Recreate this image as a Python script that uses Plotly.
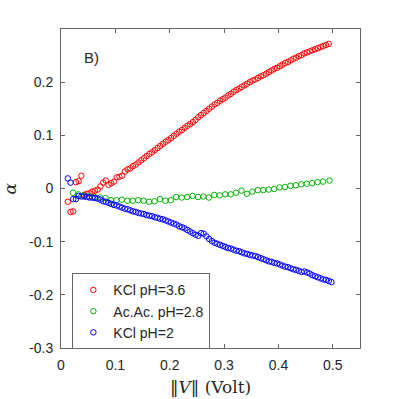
import plotly.graph_objects as go

# Voltage samples (Volt)
V = [0.0125, 0.0175, 0.0225, 0.0275, 0.0325, 0.0375, 0.0425, 0.0475, 0.0525, 0.0575,
     0.0625, 0.0675, 0.0725, 0.0775, 0.0825, 0.0875, 0.0925, 0.0975, 0.1025, 0.1075,
     0.1125, 0.1175, 0.1225, 0.1275, 0.1325, 0.1375, 0.1425, 0.1475, 0.1525, 0.1575,
     0.1625, 0.1675, 0.1725, 0.1775, 0.1825, 0.1875, 0.1925, 0.1975, 0.2025, 0.2075,
     0.2125, 0.2175, 0.2225, 0.2275, 0.2325, 0.2375, 0.2425, 0.2475, 0.2525, 0.2575,
     0.2625, 0.2675, 0.2725, 0.2775, 0.2825, 0.2875, 0.2925, 0.2975, 0.3025, 0.3075,
     0.3125, 0.3175, 0.3225, 0.3275, 0.3325, 0.3375, 0.3425, 0.3475, 0.3525, 0.3575,
     0.3625, 0.3675, 0.3725, 0.3775, 0.3825, 0.3875, 0.3925, 0.3975, 0.4025, 0.4075,
     0.4125, 0.4175, 0.4225, 0.4275, 0.4325, 0.4375, 0.4425, 0.4475, 0.4525, 0.4575,
     0.4625, 0.4675, 0.4725, 0.4775, 0.4825, 0.4875, 0.4925, 0.4975]

# KCl pH=3.6 (red)
alpha_kcl36 = [-0.025, -0.044, -0.043, 0.012, 0.014, 0.024, -0.012, -0.010, -0.009, -0.006,
               -0.004, -0.002, 0.004, 0.011, 0.015, 0.007, 0.010, 0.013, 0.021, 0.022,
               0.024, 0.032, 0.036, 0.038, 0.042, 0.045, 0.049, 0.053, 0.057, 0.061,
               0.065, 0.068, 0.072, 0.076, 0.080, 0.084, 0.088, 0.091, 0.095, 0.099,
               0.103, 0.107, 0.110, 0.114, 0.118, 0.121, 0.125, 0.129, 0.134, 0.138,
               0.142, 0.146, 0.150, 0.154, 0.158, 0.161, 0.165, 0.168, 0.171, 0.175,
               0.178, 0.182, 0.185, 0.188, 0.191, 0.194, 0.197, 0.200, 0.203, 0.205,
               0.208, 0.211, 0.213, 0.216, 0.219, 0.222, 0.225, 0.227, 0.230, 0.233,
               0.236, 0.238, 0.241, 0.244, 0.246, 0.249, 0.251, 0.254, 0.256, 0.258,
               0.260, 0.262, 0.264, 0.266, 0.268, 0.270, 0.272]

# Ac.Ac. pH=2.8 (green)
V_acac = [0.022, 0.032, 0.042, 0.052, 0.062, 0.072, 0.082, 0.092, 0.102, 0.112,
          0.122, 0.132, 0.142, 0.152, 0.162, 0.172, 0.182, 0.192, 0.202, 0.212,
          0.222, 0.232, 0.242, 0.252, 0.262, 0.272, 0.282, 0.292, 0.302, 0.312,
          0.322, 0.332, 0.342, 0.352, 0.362, 0.372, 0.382, 0.392, 0.402, 0.412,
          0.422, 0.432, 0.442, 0.452, 0.462, 0.472, 0.482, 0.494]
alpha_acac = [-0.008, -0.011, -0.013, -0.015, -0.016, -0.017, -0.018, -0.022, -0.022, -0.021,
              -0.023, -0.023, -0.022, -0.023, -0.025, -0.024, -0.020, -0.023, -0.022, -0.016,
              -0.017, -0.016, -0.014, -0.016, -0.015, -0.017, -0.012, -0.013, -0.011, -0.011,
              -0.008, -0.004, -0.010, -0.006, -0.003, -0.003, -0.002, -0.001, 0.002, 0.003,
              0.005, 0.006, 0.008, 0.009, 0.010, 0.012, 0.013, 0.015]

# KCl pH=2 (blue)
alpha_kcl2 = [0.019, 0.011, -0.020, -0.020, -0.014, -0.015, -0.015, -0.016, -0.017, -0.017,
              -0.018, -0.019, -0.021, -0.024, -0.025, -0.027, -0.029, -0.031, -0.032, -0.034,
              -0.036, -0.038, -0.039, -0.041, -0.043, -0.044, -0.046, -0.047, -0.048, -0.050,
              -0.051, -0.052, -0.054, -0.055, -0.057, -0.058, -0.060, -0.062, -0.064, -0.066,
              -0.068, -0.071, -0.073, -0.075, -0.078, -0.081, -0.084, -0.087, -0.089, -0.084,
              -0.085, -0.090, -0.095, -0.099, -0.102, -0.104, -0.106, -0.108, -0.110, -0.112,
              -0.113, -0.115, -0.117, -0.118, -0.120, -0.122, -0.123, -0.125, -0.126, -0.127,
              -0.129, -0.131, -0.133, -0.135, -0.137, -0.138, -0.140, -0.141, -0.143, -0.145,
              -0.147, -0.148, -0.150, -0.152, -0.153, -0.155, -0.157, -0.156, -0.158, -0.160,
              -0.163, -0.165, -0.167, -0.169, -0.171, -0.172, -0.174, -0.176]

x_ticks = [0, 0.1, 0.2, 0.3, 0.4, 0.5]
x_ticklabels = ["0", "0.1", "0.2", "0.3", "0.4", "0.5"]
y_ticks = [-0.3, -0.2, -0.1, 0, 0.1, 0.2]
y_ticklabels = ["-0.3", "-0.2", "-0.1", "0", "0.1", "0.2"]

SANS = "Liberation Sans, Arial, sans-serif"
SERIF = "DejaVu Serif, Liberation Serif, serif"
AX = "#262626"

def marker(color):
    return dict(symbol="circle-open", size=5.5, color=color, line=dict(width=1, color=color))

fig = go.Figure()
fig.add_trace(go.Scatter(x=V[:len(alpha_kcl36)], y=alpha_kcl36, mode="markers",
                         name="KCl pH=3.6", marker=marker("#ff0000")))
fig.add_trace(go.Scatter(x=V_acac, y=alpha_acac, mode="markers",
                         name="Ac.Ac. pH=2.8", marker=marker("#00b000")))
fig.add_trace(go.Scatter(x=V, y=alpha_kcl2, mode="markers",
                         name="KCl pH=2", marker=marker("#0000ff")))

axis_common = dict(showline=True, linecolor="#666666", linewidth=1, mirror="ticks",
                   ticks="inside", ticklen=4, tickcolor="#666666", tickwidth=1,
                   showgrid=False, zeroline=False,
                   tickfont=dict(family=SANS, size=14, color=AX))

fig.update_layout(
    width=399, height=399,
    margin=dict(l=61, r=39, t=29, b=51),
    paper_bgcolor="white", plot_bgcolor="white",
    showlegend=True,
    legend=dict(x=0.038, y=0.234, xanchor="left", yanchor="top",
                bgcolor="white", bordercolor="#666666", borderwidth=1,
                font=dict(family=SANS, size=14, color=AX),
                tracegroupgap=0, itemwidth=30),
    xaxis=dict(range=[0, 0.55], tickvals=x_ticks, ticktext=x_ticklabels,
               ticklabelstandoff=4, **axis_common),
    yaxis=dict(range=[-0.3, 0.3], tickvals=y_ticks, ticktext=y_ticklabels,
               ticklabelstandoff=4, **axis_common),
    annotations=[
        dict(text="B)", x=0.057, y=0.247, xref="x", yref="y", showarrow=False,
             font=dict(family=SANS, size=15, color=AX)),
        dict(text="‖<i>V</i>‖ (Volt)", x=0.5, y=0, xref="paper", yref="paper",
             xanchor="center", yanchor="middle", yshift=-39, showarrow=False,
             font=dict(family=SERIF, size=17, color=AX)),
        dict(text="<i>α</i>", x=0, y=0.5, xref="paper", yref="paper",
             xanchor="center", yanchor="middle", xshift=-52, showarrow=False,
             textangle=-90, font=dict(family=SERIF, size=17, color=AX)),
    ],
)

fig.write_html("out.html", config={"displayModeBar": False},
               post_script="document.body.style.margin='0px';")
